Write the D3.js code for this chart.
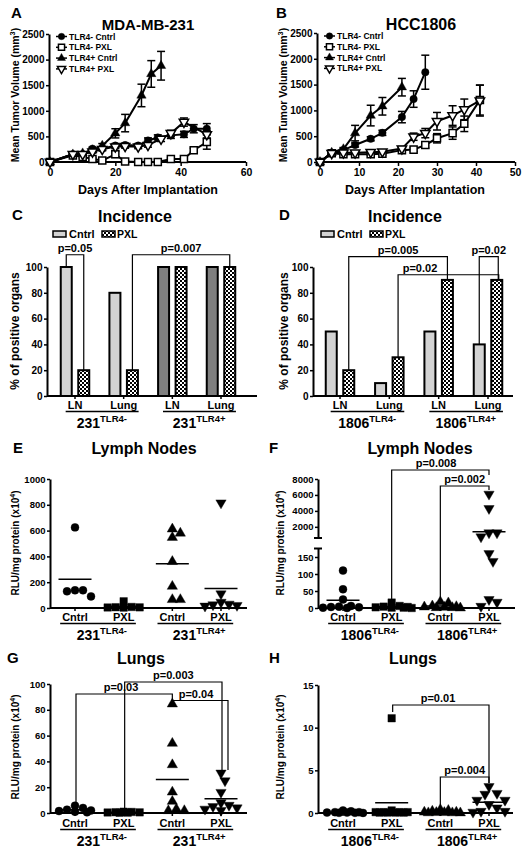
<!DOCTYPE html>
<html><head><meta charset="utf-8">
<script src="https://cdn.jsdelivr.net/npm/d3@7"></script>
<style>
body{margin:0;background:#fff;}
svg{display:block;}
</style></head><body>
<svg id="fig" width="526" height="854"></svg>
<script>
// ---------------- DATA ----------------
// Panel A: MDA-MB-231 mean tumor volume (mm3) vs days
const seriesNames = ["TLR4- Cntrl", "TLR4- PXL", "TLR4+ Cntrl", "TLR4+ PXL"];
const aDaysNegCntrl = [0,7,10,13,16,20,23,27,30,33,37,41,44,48];
const aVolNegCntrl  = [0,150,150,260,260,320,330,320,420,480,520,540,650,650];
const aErrNegCntrl  = [0,20,20,30,30,40,40,40,50,50,60,60,80,100];
const aDaysNegPxl = [0,7,10,13,16,20,23,27,30,33,37,41,44,48];
const aVolNegPxl  = [0,130,100,60,30,150,10,0,0,0,60,60,230,390];
const aErrNegPxl  = [0,20,20,20,15,60,10,0,0,0,20,20,40,140];
const aDaysPosCntrl = [0,7,10,13,16,20,23,28,31,34];
const aVolPosCntrl  = [0,150,170,230,320,560,760,1300,1720,1880];
const aErrPosCntrl  = [0,20,20,30,40,90,170,220,260,280];
const aDaysPosPxl = [0,7,10,13,16,20,23,27,30,34,37,41,48];
const aVolPosPxl  = [0,150,150,200,250,300,310,300,330,450,560,780,540];
const aErrPosPxl  = [0,20,20,25,30,40,40,40,40,50,60,80,70];
const aDayTicks = [0,20,40,60];

// Panel B: HCC1806
const bDaysNegCntrl = [0,3,6,9,13,16,21,24,27];
const bVolNegCntrl  = [0,180,230,330,450,565,870,1220,1740];
const bErrNegCntrl  = [0,20,30,40,40,50,110,160,330];
const bDaysNegPxl = [0,3,6,9,13,16,21,24,27,30,34,37,41];
const bVolNegPxl  = [0,170,150,150,150,160,230,240,330,460,560,740,1200];
const bErrNegPxl  = [0,20,20,20,20,20,30,40,60,90,120,150,290];
const bDaysPosCntrl = [0,3,6,9,13,16,21];
const bVolPosCntrl  = [0,180,250,560,900,1080,1450];
const bErrPosCntrl  = [0,20,30,150,200,170,170];
const bDaysPosPxl = [0,3,6,9,13,16,21,24,27,30,34,37,41];
const bVolPosPxl  = [0,170,180,180,190,200,260,490,560,790,900,1020,1190];
const bErrPosPxl  = [0,20,20,20,20,20,30,70,90,170,190,200,300];
const bDayTicks = [0,10,20,30,40,50];
const volTicks = [0,500,1000,1500,2000,2500];

// Panels C, D: incidence (% of positive organs)
const organCats = ["LN", "Lung", "LN", "Lung"];
const incCCntrl = [100, 80, 100, 100];
const incCPxl   = [20, 20, 100, 100];
const incDCntrl = [50, 10, 50, 40];
const incDPxl   = [20, 30, 90, 90];
const pctTicks = [0,20,40,60,80,100];

// Panels E-H: RLU/mg protein (x10^4)
const treatCats = ["Cntrl", "PXL", "Cntrl", "PXL"];
const eNegCntrl = [625,137,137,129,90];
const eNegPxl   = [52,8,6,5,4,3];
const ePosCntrl = [612,580,547,360,168,65,65];
const ePosPxl   = [815,110,45,30,25,20,15];
const eTicks = [0,200,400,600,800,1000];

const fNegCntrl = [110,55,25,6,4,3,2,1,0];
const fNegPxl   = [16,6,4,3,2,1,1,0];
const fPosCntrl = [18,15,6,4,3,2,1,1,0];
const fPosPxl   = [6100,4300,1250,1250,750,160,137,25,17,5];
const fTicksLow = [0,50,100,150];
const fTicksHigh = [2000,4000,6000,8000];

const gNegCntrl = [5.7,3.9,2.6,2,1.5,1,0.5];
const gNegPxl   = [1,0.8,0.6,0.5,0.4,0.3,0.2];
const gPosCntrl = [84.5,54,37.4,16.2,9,3,1.8,1.8];
const gPosPxl   = [31,25,16,8,6,5,4,3,2];
const gTicks = [0,20,40,60,80,100];

const hNegCntrl = [0.3,0.2,0.1,0.1,0.05,0.05,0.02,0.02,0.01];
const hNegPxl   = [11.1,0.3,0.1,0.1,0.1,0.1,0.05,0.05,0.05,0.05];
const hPosCntrl = [0.4,0.3,0.2,0.1,0.1,0.05,0.05,0.02,0.02,0.01];
const hPosPxl   = [3.1,2.3,2.2,1.5,1.5,1.0,0.6,0.2,0.2,0.1];
const hTicks = [0,5,10,15];

// ---------------- DRAWING ----------------
const FF = '"Liberation Sans", Arial, Helvetica, sans-serif';
const svg = d3.select("#fig").attr("font-family", FF).attr("font-weight", "bold");
svg.append("rect").attr("width", 526).attr("height", 854).attr("fill", "#fff");
const defs = svg.append("defs");
const pat = defs.append("pattern").attr("id", "chk").attr("patternUnits", "userSpaceOnUse")
  .attr("width", 4).attr("height", 4);
pat.append("rect").attr("width", 4).attr("height", 4).attr("fill", "#fff");
pat.append("rect").attr("width", 2).attr("height", 2).attr("fill", "#000");
pat.append("rect").attr("x", 2).attr("y", 2).attr("width", 2).attr("height", 2).attr("fill", "#000");

function txt(g, x, y, s, size, anchor = "middle") {
  return g.append("text").attr("x", x).attr("y", y).attr("font-size", size)
    .attr("text-anchor", anchor).attr("fill", "#000").text(s);
}
function styleAxis(sel, fs) {
  sel.attr("font-family", FF);
  sel.select(".domain").attr("stroke-width", 2).attr("stroke", "#000");
  sel.selectAll(".tick line").attr("stroke-width", 1.5).attr("stroke", "#000");
  sel.selectAll(".tick text").attr("font-size", fs).attr("font-weight", "bold").attr("fill", "#000");
}
function yAxis(g, scale, x, ticks, fs) {
  const a = g.append("g").attr("transform", `translate(${x},0)`)
    .call(d3.axisLeft(scale).tickValues(ticks).tickSize(3).tickSizeOuter(0).tickPadding(1.5).tickFormat(d3.format("d")));
  styleAxis(a, fs);
  return a;
}
// rotated label with optional superscript
function yLabel(g, x, y, main, sup, tail, size) {
  const t = g.append("text").attr("transform", `translate(${x},${y}) rotate(-90)`)
    .attr("text-anchor", "middle").attr("font-size", size).attr("fill", "#000");
  t.append("tspan").text(main);
  if (sup) {
    t.append("tspan").attr("font-size", size * 0.7).attr("dy", -size * 0.4).text(sup);
    t.append("tspan").attr("dy", size * 0.4).text(tail);
  }
}
const symType = { circle: d3.symbolCircle, square: d3.symbolSquare, triUp: d3.symbolTriangle, triDown: d3.symbolTriangle };
function sym(g, type, x, y, size, open) {
  g.append("path").attr("d", d3.symbol().type(symType[type]).size(size)())
    .attr("transform", `translate(${x},${y})` + (type === "triDown" ? " rotate(180)" : ""))
    .attr("fill", open ? "#fff" : "#000").attr("stroke", "#000").attr("stroke-width", open ? 1.5 : 0.4);
}
function line(g, x1, y1, x2, y2, w = 2) {
  g.append("line").attr("x1", x1).attr("y1", y1).attr("x2", x2).attr("y2", y2)
    .attr("stroke", "#000").attr("stroke-width", w);
}

// -------- line charts --------
function linePanel(o) {
  const g = svg.append("g");
  const x = d3.scaleLinear().domain(o.xDom).range(o.xRange);
  const y = d3.scaleLinear().domain([0, 2500]).range(o.yRange);
  yAxis(g, y, o.axisX, volTicks, 10);
  const xa = g.append("g").attr("transform", `translate(0,${y(0)})`)
    .call(d3.axisBottom(x).tickValues(o.xTicks).tickSize(4).tickSizeOuter(0).tickPadding(2.5));
  styleAxis(xa, 10.5);
  xa.select(".domain").remove();
  line(g, o.axisX, y(0), o.xRange[1], y(0), 2);
  const lg = d3.line().x(d => x(d[0])).y(d => y(d[1]));
  o.series.forEach(s => {
    g.append("path").attr("d", lg(s.days.map((d, i) => [d, s.vals[i]])))
      .attr("fill", "none").attr("stroke", "#000").attr("stroke-width", 2);
  });
  o.series.forEach(s => {
    s.days.forEach((d, i) => {
      const e = s.errs[i]; if (!e) return;
      const cx = x(d), y1 = y(s.vals[i] + e), y2 = y(Math.max(0, s.vals[i] - e));
      line(g, cx, y1, cx, y2, 1.5);
      line(g, cx - 4, y1, cx + 4, y1, 1.5);
      line(g, cx - 4, y2, cx + 4, y2, 1.5);
    });
  });
  o.series.forEach(s => {
    s.days.forEach((d, i) => sym(g, s.type, x(d), y(s.vals[i]), s.size, s.open));
  });
  // legend
  o.series.forEach((s, i) => {
    const ly = o.legY + i * 10.8;
    line(g, o.legX, ly, o.legX + 11, ly, 1.5);
    sym(g, s.type, o.legX + 5.5, ly, s.size * 0.75, s.open);
    txt(g, o.legX + 13, ly + 3, seriesNames[i], 8.5, "start");
  });
  txt(g, o.letter[1], 18, o.letter[0], 15, "start");
  txt(g, o.titleX, 30, o.title, o.titleSize);
  txt(g, o.xLabX, 194, "Days After Implantation", 12.5);
  yLabel(g, o.yLabX, 95, "Mean Tumor Volume (mm", "3", ")", 10.5);
}
function mkSeries(days, vals, errs, type, open, size) { return { days, vals, errs, type, open, size }; }

linePanel({
  xDom: [0, 60], xRange: [50, 246], yRange: [162, 34], axisX: 49, xTicks: aDayTicks,
  series: [
    mkSeries(aDaysNegCntrl, aVolNegCntrl, aErrNegCntrl, "circle", false, 44),
    mkSeries(aDaysNegPxl, aVolNegPxl, aErrNegPxl, "square", true, 50),
    mkSeries(aDaysPosCntrl, aVolPosCntrl, aErrPosCntrl, "triUp", false, 38),
    mkSeries(aDaysPosPxl, aVolPosPxl, aErrPosPxl, "triDown", true, 38)
  ],
  legX: 56, legY: 36.5, letter: ["A", 11], title: "MDA-MB-231", titleSize: 15, titleX: 148, xLabX: 148, yLabX: 19
});
linePanel({
  xDom: [0, 50], xRange: [320, 515], yRange: [162, 33], axisX: 317, xTicks: bDayTicks,
  series: [
    mkSeries(bDaysNegCntrl, bVolNegCntrl, bErrNegCntrl, "circle", false, 44),
    mkSeries(bDaysNegPxl, bVolNegPxl, bErrNegPxl, "square", true, 50),
    mkSeries(bDaysPosCntrl, bVolPosCntrl, bErrPosCntrl, "triUp", false, 38),
    mkSeries(bDaysPosPxl, bVolPosPxl, bErrPosPxl, "triDown", true, 38)
  ],
  legX: 324, legY: 36, letter: ["B", 276], title: "HCC1806", titleSize: 16, titleX: 421, xLabX: 415, yLabX: 287
});

// -------- category label rows --------
function catRows(g, centers, labels, baseY, groupMain, groupSups) {
  const tw = [];
  labels.forEach((l, i) => {
    const t = txt(g, centers[i], baseY, l, 11);
    tw.push(t.node().getComputedTextLength());
  });
  [0, 2].forEach((k, gi) => {
    const xl = centers[k] - tw[k] / 2 - 2, xr = centers[k + 1] + tw[k + 1] / 2 + 1.5;
    line(g, xl, baseY + 2.5, xr, baseY + 2.5, 1.5);
    const t = g.append("text").attr("x", (centers[k] + centers[k + 1]) / 2 + 2.5).attr("y", baseY + 19)
      .attr("text-anchor", "middle").attr("font-size", 14).attr("fill", "#000");
    t.append("tspan").text(groupMain);
    t.append("tspan").attr("font-size", 9.5).attr("dy", -6).text(groupSups[gi]);
  });
}
function bracket(g, x1, y1, x2, y2, top, label, lx) {
  g.append("path").attr("d", `M${x1},${y1}V${top}H${x2}V${y2}`)
    .attr("fill", "none").attr("stroke", "#000").attr("stroke-width", 1.2);
  txt(g, lx === undefined ? (x1 + x2) / 2 : lx, top - 3, label, 11);
}

// -------- bar charts --------
function barPanel(o) {
  const g = svg.append("g");
  const y = d3.scaleLinear().domain([0, 100]).range([396, 267]);
  const xc = d3.scalePoint().domain(d3.range(4)).range(o.cRange);
  const cen = d3.range(4).map(i => xc(i));
  const off = 8.75, bw = 11;
  yAxis(g, y, o.axisX, pctTicks, 10);
  line(g, o.axisX, y(0), o.xEnd, y(0), 2);
  cen.forEach(c => line(g, c, y(0), c, y(0) + 3, 1.5));
  o.cntrl.forEach((v, i) => {
    g.append("rect").attr("x", cen[i] - off - bw / 2).attr("y", y(v)).attr("width", bw).attr("height", y(0) - y(v))
      .attr("fill", o.cntrlFill[i]).attr("stroke", "#000").attr("stroke-width", 2);
  });
  o.pxl.forEach((v, i) => {
    g.append("rect").attr("x", cen[i] + off - bw / 2).attr("y", y(v)).attr("width", bw).attr("height", y(0) - y(v))
      .attr("fill", "url(#chk)").attr("stroke", "#000").attr("stroke-width", 2);
  });
  line(g, o.axisX, y(0), o.xEnd, y(0), 2);
  // legend
  g.append("rect").attr("x", o.legX).attr("y", 231).attr("width", 13).attr("height", 6)
    .attr("fill", "#d3d3d3").attr("stroke", "#000").attr("stroke-width", 1.5);
  txt(g, o.legX + 16, 237.5, "Cntrl", 11, "start");
  g.append("rect").attr("x", o.legX + 49).attr("y", 231).attr("width", 13).attr("height", 6)
    .attr("fill", "url(#chk)").attr("stroke", "#000").attr("stroke-width", 1.5);
  txt(g, o.legX + 64, 237.5, "PXL", 10.5, "start");
  // brackets
  const bx = (i, s) => cen[i] + (s === "c" ? -off : off);
  const bv = (i, s) => y(s === "c" ? o.cntrl[i] : o.pxl[i]);
  o.brackets.forEach(b => bracket(g, bx(b[0], b[1]), bv(b[0], b[1]), bx(b[2], b[3]) + (b[6] || 0), bv(b[2], b[3]), y(b[4]), b[5], b[7]));
  catRows(g, cen, organCats, 409, o.groupMain, o.groupSups);
  txt(g, o.letter[1], 220, o.letter[0], 15, "start");
  txt(g, o.titleX, 222, "Incidence", 16);
  yLabel(g, o.yLabX, 331, "% of positive organs", null, null, 12);
}
barPanel({
  cRange: [75, 221], axisX: 47, xEnd: 257, cntrl: incCCntrl, pxl: incCPxl,
  cntrlFill: ["#d3d3d3", "#d3d3d3", "#7f7f7f", "#7f7f7f"], legX: 53,
  brackets: [[0, "c", 0, "p", 109.5, "p=0.05"], [1, "p", 3, "p", 109.5, "p=0.007"]],
  groupMain: "231", groupSups: ["TLR4-", "TLR4+"], letter: ["C", 12], titleX: 135, yLabX: 19
});
barPanel({
  cRange: [340, 488], axisX: 313, xEnd: 513, cntrl: incDCntrl, pxl: incDPxl,
  cntrlFill: ["#d3d3d3", "#d3d3d3", "#d3d3d3", "#d3d3d3"], legX: 321,
  brackets: [[0, "p", 2, "p", 108, "p=0.005"], [1, "p", 3, "p", 94, "p=0.02", 2, 420],
             [3, "c", 3, "p", 108, "p=0.02", 1.5]],
  groupMain: "1806", groupSups: ["TLR4-", "TLR4+"], letter: ["D", 279], titleX: 405, yLabX: 288
});

// -------- scatter plots --------
function swarm(vals, yf, r, maxOff) {
  const order = vals.map((v, i) => i).sort((a, b) => vals[b] - vals[a]);
  const placed = [], out = new Array(vals.length);
  const cands = [0];
  for (let k = 1; k * 4 <= maxOff; k++) cands.push(k * 4, -k * 4);
  order.forEach(i => {
    const py = yf(vals[i]);
    let chosen = null, bestMin = -1, bestC = 0;
    for (const c of cands) {
      let mind = Infinity;
      placed.forEach(p => { const d = Math.hypot(c - p.x, py - p.y); if (d < mind) mind = d; });
      if (mind >= 2 * r) { chosen = c; break; }
      if (mind > bestMin) { bestMin = mind; bestC = c; }
    }
    if (chosen === null) chosen = bestC;
    placed.push({ x: chosen, y: py });
    out[i] = chosen;
  });
  return out;
}
const scatTypes = ["circle", "square", "triUp", "triDown"];
const scatSize = { circle: 50, square: 56, triUp: 46, triDown: 46 };
function scatterPanel(o) {
  const g = svg.append("g");
  const xc = d3.scalePoint().domain(d3.range(4)).range(o.cRange);
  const cen = d3.range(4).map(i => xc(i));
  o.drawAxis(g);
  const y0 = o.yf(0);
  line(g, o.axisX, y0, o.xEnd, y0, 2);
  cen.forEach(c => line(g, c, y0, c, y0 + 3, 1.5));
  o.groups.forEach((vals, gi) => {
    const offs = swarm(vals, o.yf, 4, 20);
    vals.forEach((v, i) => sym(g, scatTypes[gi], cen[gi] + offs[i], o.yf(v), scatSize[scatTypes[gi]], false));
    const m = d3.mean(vals);
    line(g, cen[gi] - 16.5, o.yf(m), cen[gi] + 16.5, o.yf(m), 1.5);
  });
  (o.brackets || []).forEach(b => bracket(g, cen[b[0]] + (b[6] || 0), b[1], cen[b[2]] + (b[7] || 0), b[3], b[4], b[5], b[8]));
  catRows(g, cen, treatCats, o.rowY, o.groupMain, ["TLR4-", "TLR4+"]);
  txt(g, o.letter[1], o.titleY - 1, o.letter[0], 15, "start");
  txt(g, o.titleX, o.titleY, o.title, 16);
  yLabel(g, o.yLabX, o.yLabY, "RLU/mg protein (x10", "4", ")", 10);
}

// E
const yE = d3.scaleLinear().domain([0, 1000]).range([608, 479]);
scatterPanel({
  cRange: [75, 221], axisX: 50, xEnd: 247, yf: yE, groups: [eNegCntrl, eNegPxl, ePosCntrl, ePosPxl],
  drawAxis: g => yAxis(g, yE, 50, eTicks, 9.5),
  rowY: 621, groupMain: "231", letter: ["E", 13], title: "Lymph Nodes", titleX: 144, titleY: 454,
  yLabX: 19, yLabY: 543
});
// F (broken axis)
const yFLow = d3.scaleLinear().domain([0, 175]).range([608, 548.5]);
const yFHigh = d3.scaleLinear().domain([600, 8000]).range([538, 479]);
const yF = v => v >= 600 ? yFHigh(v) : yFLow(v);
scatterPanel({
  cRange: [343, 489], axisX: 318, xEnd: 515, yf: yF, groups: [fNegCntrl, fNegPxl, fPosCntrl, fPosPxl],
  drawAxis: g => {
    yAxis(g, yFLow, 318, fTicksLow, 9.5);
    yAxis(g, yFHigh, 318, fTicksHigh, 9.5);
    line(g, 314, 538, 322, 538, 2);
    line(g, 314, 548.5, 322, 548.5, 2);
  },
  brackets: [[1, 600, 3, 475, 470, "p=0.008", 0, 0, 436], [2, 600, 3, 490, 486, "p=0.002"]],
  rowY: 621, groupMain: "1806", letter: ["F", 269], title: "Lymph Nodes", titleX: 420, titleY: 454,
  yLabX: 284, yLabY: 543
});
// G
const yG = d3.scaleLinear().domain([0, 100]).range([813, 684]);
scatterPanel({
  cRange: [75, 221], axisX: 50, xEnd: 247, yf: yG, groups: [gNegCntrl, gNegPxl, gPosCntrl, gPosPxl],
  drawAxis: g => yAxis(g, yG, 50, gTicks, 9.5),
  brackets: [[0, 806, 2, 702, 694, "p=0.03", 1, 0, 121], [1, 811, 3, 770, 682, "p=0.003", 1, 1],
             [2, 701, 3, 770, 700.5, "p=0.04", 1, 7, 196]],
  rowY: 827, groupMain: "231", letter: ["G", 7], title: "Lungs", titleX: 141, titleY: 664,
  yLabX: 19, yLabY: 747
});
// H
const yH = d3.scaleLinear().domain([0, 15]).range([813, 685]);
scatterPanel({
  cRange: [343, 489], axisX: 318, xEnd: 513, yf: yH, groups: [hNegCntrl, hNegPxl, hPosCntrl, hPosPxl],
  drawAxis: g => yAxis(g, yH, 318, hTicks, 9.5),
  brackets: [[1, 712, 3, 783, 705, "p=0.01", 1, 0, 438], [2, 811, 3, 783, 777, "p=0.004"]],
  rowY: 827, groupMain: "1806", letter: ["H", 269], title: "Lungs", titleX: 413, titleY: 664,
  yLabX: 284, yLabY: 747
});
</script></body></html>
